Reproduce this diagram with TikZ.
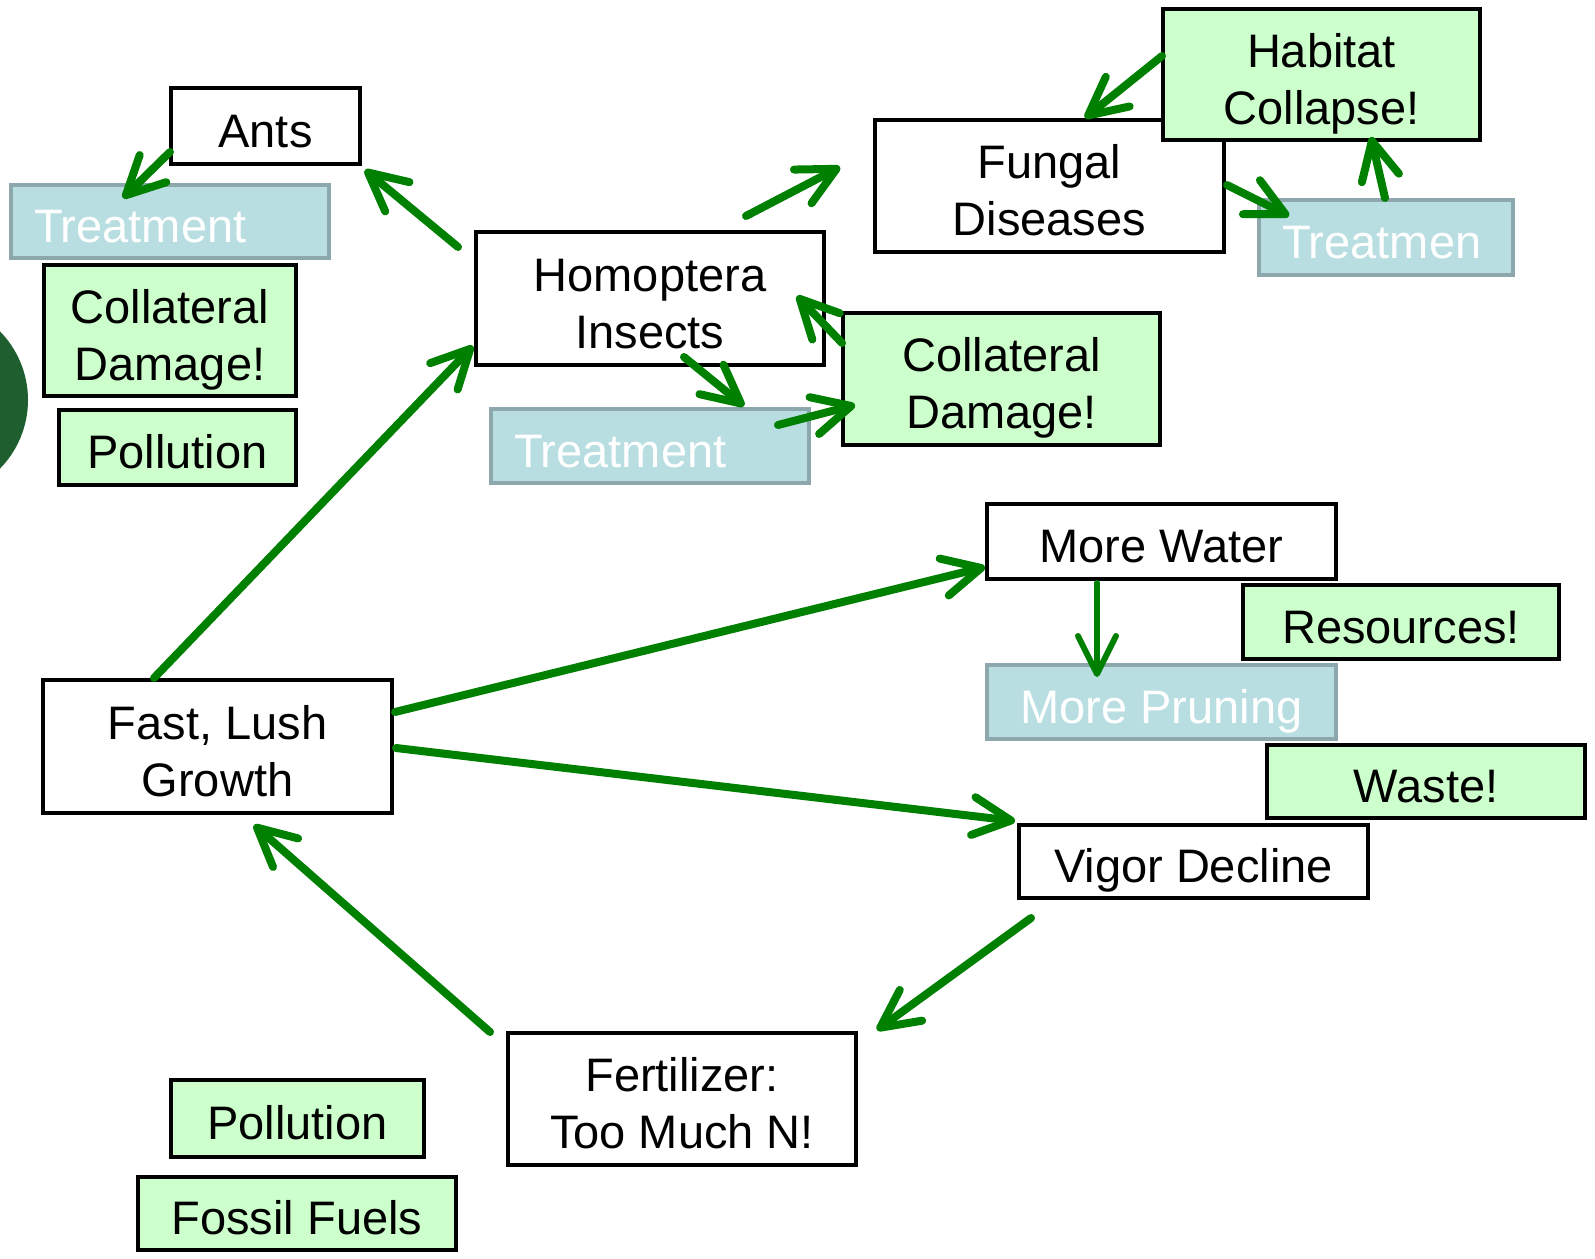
\documentclass[tikz,border=0pt]{standalone}
\usepackage{fontspec}
\setmainfont{Liberation Sans}
\usetikzlibrary{arrows.meta}
\definecolor{boxgreen}{RGB}{204,255,204}
\definecolor{boxblue}{RGB}{185,222,226}
\definecolor{blueedge}{RGB}{141,168,172}
\definecolor{arrowgreen}{RGB}{0,128,0}
\definecolor{blobgreen}{RGB}{31,94,47}
\newcommand\sH{\rule{0pt}{54pt}}
\newcommand\sD{\rule[-12pt]{0pt}{12pt}}
\begin{document}
\begin{tikzpicture}[x=1pt,y=-1pt,
  every node/.style={inner sep=0pt, font=\fontsize{47}{57}\selectfont},
  base/.style={line width=4pt, align=center, execute at begin node=\sH, execute at end node=\sD},
  whitebox/.style={base, draw=black, fill=white},
  greenbox/.style={base, draw=black, fill=boxgreen},
  bluebox/.style={base, draw=blueedge, line width=4.5pt, fill=boxblue, text=white, align=left},
  conn/.style={draw=arrowgreen, line width=8pt, line cap=round, line join=round,
    -{Straight Barb[length=38pt,width=38pt,line cap=round,line join=round]},
    preaction={draw=black!22, transform canvas={shift={(1.8pt,-1.8pt)}}}},
]
\useasboundingbox (0,0) rectangle (1595,1258);
\clip (0,0) rectangle (1595,1258);
\fill[blobgreen] (-70,400) circle (98);

% boxes
\node[whitebox, minimum width=189, minimum height=76] (ants) at (265.5,126) {Ants};
\node[bluebox, minimum width=318, minimum height=73, text width=272] (treatTL) at (170,221.5) {Treatment};
\node[greenbox, minimum width=252, minimum height=131] (collL) at (170,330.5) {\sH Collateral\\Damage!};
\node[greenbox, minimum width=237, minimum height=75] (pollL) at (177.5,447.5) {Pollution};

\node[whitebox, minimum width=348, minimum height=133] (homo) at (650,298.5) {\sH Homoptera\\Insects};
\node[bluebox, minimum width=318, minimum height=74, text width=272] (treatM) at (650,446) {Treatment};
\node[greenbox, minimum width=317, minimum height=132] (collM) at (1001.5,379) {\sH Collateral\\Damage!};

\node[whitebox, minimum width=349, minimum height=132] (fungal) at (1049.5,186) {\sH Fungal\\Diseases};
\node[greenbox, minimum width=317, minimum height=131] (habitat) at (1321.5,74.5) {\sH Habitat\\Collapse!};
\node[bluebox, minimum width=254, minimum height=75, text width=208] (treatR) at (1386,237.5) {Treatmen};

\node[whitebox, minimum width=349, minimum height=75] (water) at (1161.5,541.5) {More Water};
\node[greenbox, minimum width=316, minimum height=74] (resources) at (1401,622) {Resources!};
\node[bluebox, minimum width=349, minimum height=74] (pruning) at (1161.5,702) {More Pruning};
\node[greenbox, minimum width=318, minimum height=73] (waste) at (1426,781.5) {Waste!};
\node[whitebox, minimum width=349, minimum height=73] (vigor) at (1193.5,861.5) {Vigor Decline};

\node[whitebox, minimum width=349, minimum height=133] (fast) at (217.5,746.5) {\sH Fast, Lush\\Growth};
\node[whitebox, minimum width=348, minimum height=132] (fert) at (682,1099) {\sH Fertilizer:\\Too Much N!};
\node[greenbox, minimum width=253, minimum height=77] (pollB) at (297.5,1118.5) {Pollution};
\node[greenbox, minimum width=318, minimum height=73] (fossil) at (297,1213.5) {Fossil Fuels};

% connector end points
\coordinate (homoA) at (458,247);   \coordinate (antsIn) at (365,170);
\coordinate (antsOut) at (170,152); \coordinate (treatTLIn) at (123,198);
\coordinate (homoF) at (746,216);   \coordinate (fungalIn) at (840,167);
\coordinate (habOut) at (1162,56);  \coordinate (fungalTop) at (1085,118);
\coordinate (fungalOut) at (1227,185); \coordinate (treatRIn) at (1289,216);
\coordinate (treatROut) at (1385,198); \coordinate (habIn) at (1371,137);
\coordinate (collMOut) at (842,343); \coordinate (homoIn) at (797,296);
\coordinate (homoT) at (684,357);   \coordinate (treatMIn) at (744,406);
\coordinate (treatMOut) at (778,425); \coordinate (collMIn) at (855,405);
\coordinate (fastTop) at (154,678); \coordinate (homoLeft) at (473,346);
\coordinate (fastW) at (395,712);   \coordinate (waterIn) at (985,567);
\coordinate (waterOut) at (1097,583); \coordinate (pruningIn) at (1097,677);
\coordinate (fastV) at (396,748);   \coordinate (vigorIn) at (1015,821);
\coordinate (vigorOut) at (1031,918); \coordinate (fertIn) at (877,1030);
\coordinate (fertOut) at (490,1032); \coordinate (fastIn) at (254,825);

% connectors
\draw[conn] (homoA) -- (antsIn);
\draw[conn] (antsOut) -- (treatTLIn);
\draw[conn] (homoF) -- (fungalIn);
\draw[conn] (habOut) -- (fungalTop);
\draw[conn] (fungalOut) -- (treatRIn);
\draw[conn] (treatROut) -- (habIn);
\draw[conn] (collMOut) -- (homoIn);
\draw[conn] (homoT) -- (treatMIn);
\draw[conn] (treatMOut) -- (collMIn);
\draw[conn] (fastTop) -- (homoLeft);
\draw[conn] (fastW) -- (waterIn);
\draw[conn, line width=6pt] (waterOut) -- (pruningIn);
\draw[conn] (fastV) -- (vigorIn);
\draw[conn] (vigorOut) -- (fertIn);
\draw[conn] (fertOut) -- (fastIn);
\end{tikzpicture}
\end{document}
